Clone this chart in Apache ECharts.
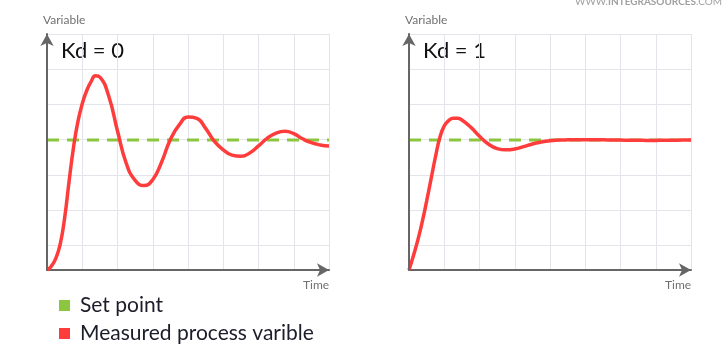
<!DOCTYPE html>
<html>
<head>
<meta charset="utf-8">
<script src="https://cdn.jsdelivr.net/npm/echarts@6/dist/echarts.min.js"></script>
<style>
  html, body { margin: 0; padding: 0; background: #ffffff; }
  #chart { width: 725px; height: 350px; }
</style>
</head>
<body>
<div id="chart"></div>
<script>
// Step response of a PID loop for two derivative gains
const time = [0, 0.125, 0.25, 0.375, 0.5, 0.625, 0.75, 0.875, 1, 1.125, 1.25, 1.375, 1.5,
  1.75, 2, 2.25, 2.5, 2.75, 3, 3.25, 3.5, 3.75, 4, 4.25, 4.5, 4.75, 5, 5.25, 5.5, 5.75,
  6, 6.25, 6.5, 6.75, 7, 7.25, 7.5, 7.75, 8];

const responseKd0 = [0, 0.03, 0.09, 0.20, 0.40, 0.68, 0.94, 1.14, 1.28, 1.38, 1.45, 1.495, 1.485,
  1.34, 1.07, 0.82, 0.69, 0.65, 0.695, 0.83, 1.005, 1.117, 1.178, 1.168, 1.09, 0.99, 0.925,
  0.884, 0.875, 0.901, 0.955, 1.015, 1.054, 1.068, 1.05, 1.01, 0.98, 0.963, 0.955];

const responseKd1 = [0, 0.11, 0.23, 0.37, 0.53, 0.70, 0.87, 1.02, 1.11, 1.15, 1.168, 1.168, 1.155,
  1.10, 1.03, 0.97, 0.935, 0.925, 0.932, 0.95, 0.97, 0.986, 0.996, 1.0, 1.002, 1.003, 1.003,
  1.002, 1.002, 1.001, 1.0, 0.999, 0.999, 0.998, 0.998, 0.999, 0.999, 1.0, 1.0];

const setPoint = 1;
const timeRange = [0, 8];
const panelTitles = ['Kd = 0', 'Kd = 1'];
const seriesNames = ['Set point', 'Measured process varible'];

const RED = '#ff3c3c';
const GREEN = '#8cc63f';
const AXIS = '#666666';
const GRID = '#e4e5eb';
const FONT = 'Lato, "Open Sans", sans-serif';

const panels = [
  { left: 47, title: panelTitles[0], values: responseKd0 },
  { left: 409, title: panelTitles[1], values: responseKd1 }
];

const grids = [], xAxes = [], yAxes = [], series = [], texts = [];

panels.forEach((p, i) => {
  grids.push({ left: p.left, top: 34, width: 282, height: 236 });

  xAxes.push({
    type: 'value', gridIndex: i, min: timeRange[0], max: timeRange[1], interval: 1,
    axisLine: { onZero: false, lineStyle: { color: AXIS, width: 2 }, symbol: ['none', 'arrow'], symbolSize: [10, 12] },
    axisTick: { show: false }, axisLabel: { show: false },
    splitLine: { lineStyle: { color: GRID, width: 1 } }
  });

  // value axis carrying the data
  yAxes.push({
    type: 'value', gridIndex: i, min: 0, max: 1.817,
    axisLine: { show: true, lineStyle: { color: AXIS, width: 2 }, symbol: ['none', 'arrow'], symbolSize: [10, 12] },
    axisTick: { show: false }, axisLabel: { show: false }, splitLine: { show: false }, z: 5
  });
  // helper axis for the horizontal grid, counted down from the top edge
  yAxes.push({
    type: 'value', gridIndex: i, inverse: true, min: 0, max: 6.696, interval: 1,
    axisLine: { show: false }, axisTick: { show: false }, axisLabel: { show: false },
    splitLine: { lineStyle: { color: GRID, width: 1 } }
  });

  series.push({
    name: seriesNames[0], type: 'line', xAxisIndex: i, yAxisIndex: i * 2,
    data: timeRange.map(t => [t, setPoint]), symbol: 'none', silent: true,
    lineStyle: { color: GREEN, width: 3, type: [12, 8] }, itemStyle: { color: GREEN }, z: 3
  });
  series.push({
    name: seriesNames[1], type: 'line', xAxisIndex: i, yAxisIndex: i * 2,
    data: time.map((t, k) => [t, p.values[k]]), symbol: 'none', smooth: 0.5, silent: true,
    lineStyle: { color: RED, width: 3.5 }, itemStyle: { color: RED }, z: 4
  });

  texts.push({ type: 'text', left: p.left - 4, top: 14,
    style: { text: 'Variable', fill: '#707070', font: '12px ' + FONT } });
  texts.push({ type: 'text', left: p.left + 14, top: 40,
    style: { text: p.title, fill: '#111111', font: '22px ' + FONT } });
  texts.push({ type: 'text', left: p.left + 256, top: 279,
    style: { text: 'Time', fill: '#707070', font: '12px ' + FONT } });
});

texts.push({ type: 'text', right: 3, top: -3,
  style: { rich: { a: { fill: '#a0a0a0', font: '10px ' + FONT }, b: { fill: '#a0a0a0', font: 'bold 10px ' + FONT } },
    text: '{a|WWW.}{b|INTEGRASOURCES}{a|.COM}' } });

const chart = echarts.init(document.getElementById('chart'), null, { renderer: 'canvas' });
chart.setOption({
  animation: false,
  backgroundColor: '#ffffff',
  grid: grids,
  xAxis: xAxes,
  yAxis: yAxes,
  legend: {
    orient: 'vertical', left: 59, top: 295, padding: 0, itemWidth: 11, itemHeight: 11, itemGap: 7,
    icon: 'rect', selectedMode: false,
    textStyle: { fontSize: 21, fontFamily: FONT, color: '#1c1c2a', lineHeight: 20, padding: [0, 0, 0, 5] },
    data: [
      { name: seriesNames[0], itemStyle: { color: GREEN } },
      { name: seriesNames[1], itemStyle: { color: RED } }
    ]
  },
  graphic: texts,
  series: series
});
</script>
</body>
</html>
